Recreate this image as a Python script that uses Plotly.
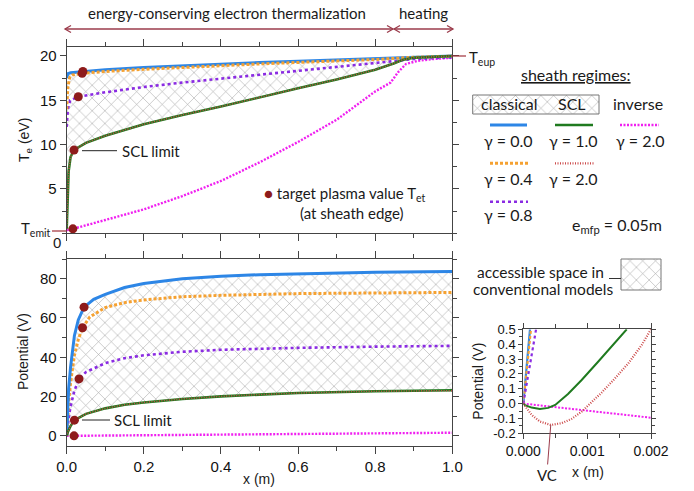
import plotly.graph_objects as go

W, H = 694, 491
def PX(x): return x / W
def PY(y): return 1 - y / H

# ---------------- data: electron temperature Te (eV) vs x (m) ----------------
xT_g00 = [0, 0.003, 0.01, 0.042, 0.1, 0.2, 0.3, 0.4, 0.5, 0.6, 0.7, 0.8, 0.9, 1.0]
Te_g00 = [17.5, 18.0, 18.1, 18.25, 18.45, 18.7, 18.9, 19.1, 19.25, 19.4, 19.55, 19.7, 19.9, 20.0]
xT_g04 = [0, 0.003, 0.008, 0.015, 0.04, 0.1, 0.2, 0.3, 0.4, 0.5, 0.6, 0.7, 0.8, 0.9, 1.0]
Te_g04 = [14.0, 16.5, 17.6, 17.85, 18.05, 18.25, 18.5, 18.72, 18.92, 19.1, 19.27, 19.43, 19.6, 19.85, 19.98]
xT_g08 = [0, 0.003, 0.009, 0.03, 0.1, 0.2, 0.3, 0.4, 0.5, 0.6, 0.7, 0.8, 0.9, 1.0]
Te_g08 = [12.0, 14.0, 15.0, 15.4, 15.9, 16.5, 17.0, 17.45, 17.9, 18.3, 18.75, 19.25, 19.65, 19.85]
xT_scl1 = [0, 0.002, 0.005, 0.01, 0.019, 0.05, 0.1, 0.2, 0.3, 0.4, 0.5, 0.6, 0.7, 0.76, 0.8, 0.848, 0.87, 0.9, 0.95, 1.0]
Te_scl1 = [0.5, 4.0, 7.0, 8.6, 9.4, 10.2, 11.0, 12.3, 13.35, 14.3, 15.35, 16.35, 17.35, 18.0, 18.45, 19.15, 19.55, 19.8, 19.93, 20.0]
xT_scl2 = [0, 0.002, 0.005, 0.01, 0.019, 0.05, 0.1, 0.2, 0.3, 0.4, 0.5, 0.6, 0.7, 0.76, 0.8, 0.848, 0.87, 0.9, 0.95, 1.0]
Te_scl2 = [0.5, 4.0, 7.0, 8.6, 9.4, 10.2, 11.0, 12.3, 13.35, 14.3, 15.35, 16.35, 17.35, 18.0, 18.45, 19.15, 19.55, 19.8, 19.93, 20.0]
xT_inv = [0, 0.016, 0.1, 0.2, 0.3, 0.4, 0.5, 0.6, 0.7, 0.76, 0.8, 0.84, 0.86, 0.88, 0.91, 0.95, 1.0]
Te_inv = [0.35, 0.5, 1.5, 2.7, 4.2, 5.9, 8.0, 10.3, 12.8, 14.7, 16.0, 17.0, 18.2, 19.1, 19.45, 19.65, 19.8]
# target plasma values (sheath edge)
Tet_x = [0.042, 0.040, 0.030, 0.019, 0.016]
Tet_y = [18.25, 18.05, 15.4, 9.4, 0.5]

# ---------------- data: potential (V) vs x (m) ----------------
xP_g00 = [0, 0.002, 0.005, 0.01, 0.015, 0.02, 0.03, 0.045, 0.07, 0.1, 0.15, 0.2, 0.3, 0.4, 0.5, 0.6, 0.8, 1.0]
P_g00 = [0, 12, 24, 35, 44, 51, 59, 65.5, 69.5, 72, 75.5, 77.5, 80, 81.2, 82, 82.5, 83.2, 83.7]
xP_g04 = [0, 0.002, 0.005, 0.01, 0.02, 0.03, 0.041, 0.06, 0.1, 0.15, 0.2, 0.3, 0.4, 0.6, 0.8, 1.0]
P_g04 = [0, 8, 17, 27, 41, 49, 55, 60.5, 65.3, 67.8, 69.2, 70.8, 71.5, 72.4, 72.8, 73.0]
xP_g08 = [0, 0.002, 0.005, 0.01, 0.02, 0.032, 0.05, 0.1, 0.15, 0.2, 0.3, 0.4, 0.6, 0.8, 1.0]
P_g08 = [0, 4, 9, 15, 23, 29, 32.5, 37, 39.5, 41, 42.8, 43.8, 44.8, 45.4, 45.8]
xP_scl1 = [0, 0.003, 0.01, 0.02, 0.05, 0.1, 0.15, 0.2, 0.3, 0.4, 0.5, 0.6, 0.8, 1.0]
P_scl1 = [0, 2, 5, 8, 11.2, 14, 15.8, 17, 18.8, 20.1, 21, 21.8, 22.7, 23.2]
xP_scl2 = [0, 0.003, 0.01, 0.02, 0.05, 0.1, 0.15, 0.2, 0.3, 0.4, 0.5, 0.6, 0.8, 1.0]
P_scl2 = [0, 2, 5, 8, 11.2, 14, 15.8, 17, 18.8, 20.1, 21, 21.8, 22.7, 23.0]
xP_inv = [0, 0.2, 0.4, 0.6, 0.8, 1.0]
P_inv = [0, 0.3, 0.6, 0.9, 1.2, 1.6]
Pt_x = [0.045, 0.041, 0.032, 0.020, 0.019]
Pt_y = [65.5, 55.0, 29.0, 8.0, 0.0]

# ---------------- data: inset, potential near the wall ----------------
xi_g00 = [0, 0.00005, 0.000105]
vi_g00 = [0, 0.24, 0.5]
xi_g04 = [0, 0.00006, 0.00012]
vi_g04 = [0, 0.24, 0.5]
xi_g08 = [0, 0.0001, 0.0002]
vi_g08 = [0, 0.24, 0.5]
xi_scl1 = [0, 0.000026, 0.00013, 0.00026, 0.00039, 0.0005, 0.0007, 0.000914, 0.001175, 0.001436, 0.00162]
vi_scl1 = [0, -0.01, -0.027, -0.036, -0.029, -0.009, 0.065, 0.159, 0.283, 0.406, 0.5]
xi_scl2 = [0, 0.000026, 0.00013, 0.00026, 0.00043, 0.0006, 0.000757, 0.000914, 0.00107, 0.001227, 0.001436, 0.001645, 0.001854, 0.002]
vi_scl2 = [0, -0.016, -0.076, -0.121, -0.144, -0.132, -0.103, -0.054, 0.007, 0.074, 0.17, 0.271, 0.394, 0.5]
xi_inv = [0, 0.002]
vi_inv = [0, -0.095]
vc_x, vc_y = 0.00043, -0.144

# tick labels
inset_xticks = [0, 0.001, 0.002]
inset_xtext = ['0.000', '0.001', '0.002']
inset_yticks = [-0.2, -0.1, 0.0, 0.1, 0.2, 0.3, 0.4, 0.5]
inset_ytext = ['-0.2', '-0.1', '0.0', '0.1', '0.2', '0.3', '0.4', '0.5']

# ---------------- styles ----------------
C_BLUE = '#2d86e6'
C_ORANGE = '#f5a131'
C_PURPLE = '#8a2be2'
C_GREEN = '#1f7a1f'
C_RED = '#cc4a4a'
C_MAG = '#f020f0'
C_DOT = '#8e1b1b'
C_MAROON = '#9b3b4b'
AX = '#444444'
TF = 'Liberation Sans, Arial, sans-serif'
AF = 'Lato, Open Sans, sans-serif'

styles = {
    'g00': dict(color=C_BLUE, width=3, dash='solid'),
    'g04': dict(color=C_ORANGE, width=3, dash='3px,2px'),
    'g08': dict(color=C_PURPLE, width=2.6, dash='3px,3px'),
    'scl1': dict(color=C_GREEN, width=2.6, dash='solid'),
    'scl2': dict(color=C_RED, width=1.6, dash='1px,1.5px'),
    'inv': dict(color=C_MAG, width=2.4, dash='2px,1.5px'),
}

hatch = dict(shape='x', size=9, solidity=0.12, fgcolor='#a5a5a5',
             bgcolor='rgba(255,255,255,0)', fgopacity=1)

fig = go.Figure()

def line(x, y, key, xa, ya, width=None):
    st = dict(styles[key])
    if width is not None:
        st['width'] = width
    fig.add_trace(go.Scatter(x=x, y=y, mode='lines', line=st, xaxis=xa, yaxis=ya,
                             showlegend=False, hoverinfo='skip'))

# hatched accessible regions
fig.add_trace(go.Scatter(x=xT_g00 + xT_scl1[::-1], y=Te_g00 + Te_scl1[::-1], fill='toself',
                         fillcolor='rgba(255,255,255,0)', fillpattern=hatch, mode='lines',
                         line=dict(width=0), xaxis='x', yaxis='y', showlegend=False, hoverinfo='skip'))
fig.add_trace(go.Scatter(x=xP_g00 + xP_scl1[::-1], y=P_g00 + P_scl1[::-1], fill='toself',
                         fillcolor='rgba(255,255,255,0)', fillpattern=hatch, mode='lines',
                         line=dict(width=0), xaxis='x2', yaxis='y2', showlegend=False, hoverinfo='skip'))

# top panel
line(xT_inv, Te_inv, 'inv', 'x', 'y')
line(xT_g08, Te_g08, 'g08', 'x', 'y')
line(xT_g00, Te_g00, 'g00', 'x', 'y')
line(xT_g04, Te_g04, 'g04', 'x', 'y')
line(xT_scl1, Te_scl1, 'scl1', 'x', 'y')
line(xT_scl2, Te_scl2, 'scl2', 'x', 'y')
fig.add_trace(go.Scatter(x=Tet_x, y=Tet_y, mode='markers', marker=dict(color=C_DOT, size=9),
                         xaxis='x', yaxis='y', showlegend=False, hoverinfo='skip'))

# bottom panel
line(xP_inv, P_inv, 'inv', 'x2', 'y2')
line(xP_g08, P_g08, 'g08', 'x2', 'y2')
line(xP_g04, P_g04, 'g04', 'x2', 'y2')
line(xP_g00, P_g00, 'g00', 'x2', 'y2')
line(xP_scl1, P_scl1, 'scl1', 'x2', 'y2')
line(xP_scl2, P_scl2, 'scl2', 'x2', 'y2')
fig.add_trace(go.Scatter(x=Pt_x, y=Pt_y, mode='markers', marker=dict(color=C_DOT, size=9),
                         xaxis='x2', yaxis='y2', showlegend=False, hoverinfo='skip'))

# inset
line(xi_g00, vi_g00, 'g00', 'x3', 'y3', width=2.2)
line(xi_g04, vi_g04, 'g04', 'x3', 'y3', width=2.2)
line(xi_g08, vi_g08, 'g08', 'x3', 'y3', width=2.2)
line(xi_inv, vi_inv, 'inv', 'x3', 'y3', width=2)
line(xi_scl1, vi_scl1, 'scl1', 'x3', 'y3', width=2)
line(xi_scl2, vi_scl2, 'scl2', 'x3', 'y3', width=2.2)

# legend hatched boxes on a pixel overlay axis
for (x0, x1, y0, y1) in [(472.7, 599, 95, 114), (621, 661, 259, 290)]:
    fig.add_trace(go.Scatter(x=[x0, x1, x1, x0, x0], y=[y0, y0, y1, y1, y0], fill='toself',
                             fillcolor='rgba(255,255,255,0)', fillpattern=hatch, mode='lines',
                             line=dict(color='#777777', width=1), xaxis='x4', yaxis='y4',
                             showlegend=False, hoverinfo='skip'))

def axis(domain, anchor, rng, **kw):
    d = dict(domain=domain, anchor=anchor, range=rng, showline=True, linecolor=AX, linewidth=1,
             mirror='ticks', ticks='outside', tickcolor=AX, ticklen=6, tickwidth=1, automargin=False,
             showgrid=False, zeroline=False, tickfont=dict(family=TF, size=15, color='#111'))
    d.update(kw)
    return d

fig.update_layout(
    width=W, height=H, margin=dict(l=0, r=0, t=0, b=0, pad=0, autoexpand=False),
    paper_bgcolor='white', plot_bgcolor='rgba(0,0,0,0)',
    xaxis=axis([PX(66.7), PX(452.3)], 'y', [0, 1], dtick=0.2, showticklabels=False, ticklen=7,
               minor=dict(dtick=0.1, ticks='outside', ticklen=4, tickcolor=AX)),
    yaxis=axis([PY(233.3), PY(47.1)], 'x', [0, 21], tickvals=[5, 10, 15, 20],
               minor=dict(dtick=2.5, ticks='outside', ticklen=4, tickcolor=AX)),
    xaxis2=axis([PX(66.7), PX(452.3)], 'y2', [0, 1], dtick=0.2, tickformat='.1f', ticklen=7,
                minor=dict(dtick=0.1, ticks='outside', ticklen=4, tickcolor=AX)),
    yaxis2=axis([PY(445.7), PY(259)], 'x2', [-5, 90], dtick=20,
                minor=dict(dtick=10, ticks='outside', ticklen=4, tickcolor=AX)),
    xaxis3=axis([PX(523.3), PX(651)], 'y3', [0, 0.002], tickvals=inset_xticks, ticktext=inset_xtext,
                ticklen=5, tickfont=dict(family=TF, size=14, color='#111'),
                minor=dict(dtick=0.0005, ticks='outside', ticklen=4, tickcolor=AX)),
    yaxis3=axis([PY(433.3), PY(329.3)], 'x3', [-0.2, 0.5], tickvals=inset_yticks, ticktext=inset_ytext,
                ticklen=4, tickfont=dict(family=TF, size=13, color='#111'),
                minor=dict(dtick=0.05, ticks='outside', ticklen=3, tickcolor=AX)),
    xaxis4=dict(domain=[0, 1], anchor='y4', range=[0, W], visible=False, fixedrange=True, automargin=False),
    yaxis4=dict(domain=[0, 1], anchor='x4', range=[H, 0], visible=False, fixedrange=True, automargin=False),
)

ann = []
def text(x, y, s, size=15, xanchor='center', family=AF, **kw):
    ann.append(dict(x=PX(x), y=PY(y), xref='paper', yref='paper', text=s, showarrow=False,
                    xanchor=xanchor, yanchor='middle', font=dict(family=family, size=size, color='#1a1a1a'), **kw))

text(227.5, 13, 'energy-conserving electron thermalization', size=15)
text(423, 13, 'heating', size=15)
text(120, 150.7, 'SCL limit', size=15, xanchor='left')
text(112, 420, 'SCL limit', size=15, xanchor='left')
text(262, 194, f"<span style='color:{C_DOT}'>●</span> target plasma value T<sub>et</sub>", size=15, xanchor='left')
text(352, 213, '(at sheath edge)', size=15)
text(53, 229, 'T<sub>emit</sub>', size=15, xanchor='right')
text(467, 58, 'T<sub>eup</sub>', size=15, xanchor='left')
text(57, 242, '0', size=15, family=TF)
text(575.7, 75, '<u>sheath regimes:</u>', size=16)
text(509, 103.5, 'classical', size=16)
text(571.7, 103.5, 'SCL', size=16)
text(638.3, 103.5, 'inverse', size=16)
text(508.3, 140, 'γ = 0.0', size=16)
text(573.3, 140, 'γ = 1.0', size=16)
text(640, 140, 'γ = 2.0', size=16)
text(508.3, 178, 'γ = 0.4', size=16)
text(573.3, 178, 'γ = 2.0', size=16)
text(508.3, 215, 'γ = 0.8', size=16)
text(616.7, 225, 'e<sub>mfp</sub> = 0.05m', size=16)
text(540.7, 271.5, 'accessible space in', size=15.5)
text(543.3, 288.5, 'conventional models', size=15.5)
# axis titles
text(25, 140, 'T<sub>e</sub> (eV)', size=14, family=TF, textangle=-90)
text(23, 352, 'Potential (V)', size=14, family=TF, textangle=-90)
text(259, 479, 'x (m)', size=14, family=TF)
text(478, 381.7, 'Potential (V)', size=14, family=TF, textangle=-90)
text(588, 472, 'x (m)', size=14, family=TF)
# VC marker
ann.append(dict(x=vc_x, y=vc_y, xref='x3', yref='y3', text='VC', showarrow=True, arrowhead=0,
                arrowwidth=1, arrowcolor=C_MAROON, ax=-4, ay=50,
                font=dict(family=AF, size=15, color='#1a1a1a')))
fig.update_layout(annotations=ann)

shapes = []
def seg(x0, y0, x1, y1, color='#222', width=1, dash='solid'):
    shapes.append(dict(type='line', xref='paper', yref='paper', x0=PX(x0), y0=PY(y0), x1=PX(x1), y1=PY(y1),
                       line=dict(color=color, width=width, dash=dash)))
def path(pts, color=C_MAROON, width=1.3):
    d = 'M ' + ' L '.join(f'{PX(a)},{PY(b)}' for a, b in pts)
    shapes.append(dict(type='path', xref='paper', yref='paper', path=d, line=dict(color=color, width=width)))

# region arrows
seg(65, 29, 393, 29, color=C_MAROON, width=1.3)
seg(394, 29, 453, 29, color=C_MAROON, width=1.3)
path([(71, 25.5), (65, 29), (71, 32.5)])
path([(387, 25.5), (393, 29), (387, 32.5)])
path([(400, 25.5), (394, 29), (400, 32.5)])
path([(447, 25.5), (453, 29), (447, 32.5)])
# pointer lines
seg(82, 150.7, 117, 150.7)
seg(82, 420, 110, 420)
seg(52, 231, 66.7, 231, color='#a0303a', width=1.2)
seg(452.3, 56, 466, 56, color='#a0303a', width=1.2)
seg(609, 278.5, 621, 278.5, color='#333', width=1)
# legend keys
for (x0, x1, y, key, w) in [(490, 527, 125, 'g00', None), (555, 593, 125, 'scl1', None), (620, 659, 125, 'inv', None),
                            (490, 528, 163.3, 'g04', None), (555, 595, 163.3, 'scl2', 2.2), (490, 528, 201.7, 'g08', None)]:
    st = styles[key]
    seg(x0, y, x1, y, color=st['color'], width=w or st['width'], dash=st['dash'])
fig.update_layout(shapes=shapes)

fig.write_html('out.html', config={'displayModeBar': False, 'staticPlot': True},
               post_script="document.body.style.margin='0';document.body.style.padding='0';")
